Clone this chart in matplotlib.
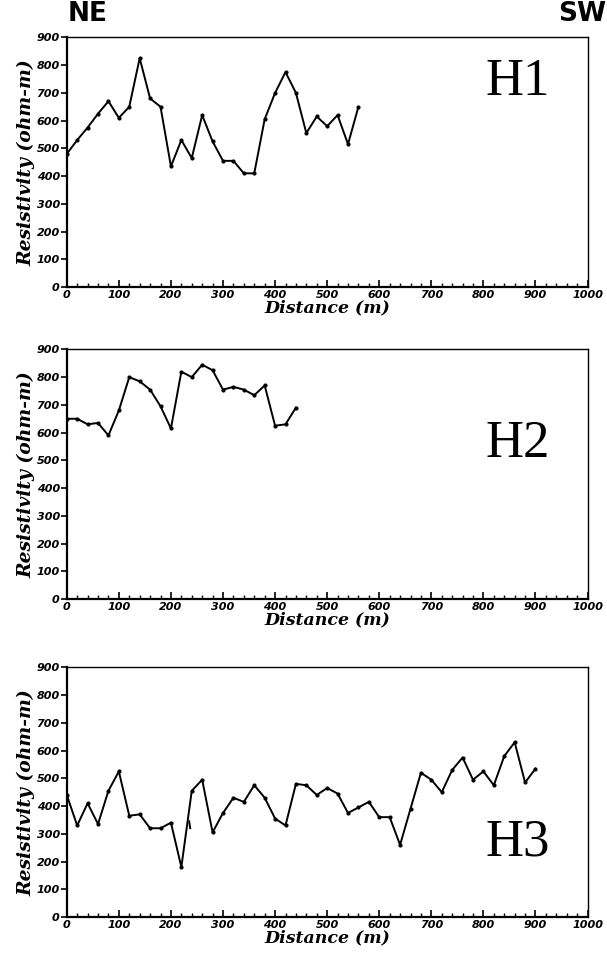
import matplotlib
matplotlib.use("Agg")
import matplotlib.pyplot as plt
from matplotlib.ticker import MultipleLocator

# distance (m) and resistivity (ohm-m)
h1_dist = list(range(0, 561, 20))
h1_res = [480, 530, 575, 625, 670, 610, 650, 825, 680, 650,
          435, 530, 465, 620, 525, 455, 455, 410, 410, 605,
          700, 775, 700, 555, 615, 580, 620, 515, 650]

h2_dist = list(range(0, 441, 20))
h2_res = [650, 650, 630, 635, 590, 680, 800, 785, 755, 695,
          615, 820, 800, 845, 825, 755, 765, 755, 735, 770,
          625, 630, 690]

h3_dist = list(range(0, 901, 20))
h3_res = [440, 330, 410, 335, 455, 525, 365, 370, 320, 320,
          340, 180, 455, 495, 305, 375, 430, 415, 475, 430,
          355, 330, 480, 475, 440, 465, 445, 375, 395, 415,
          360, 360, 260, 390, 520, 495, 450, 530, 575, 495,
          525, 475, 580, 630, 485, 535]

# stray mark near 235 m on H3
h3_stray_dist = [235, 237]
h3_stray_res = [345, 320]

labels = ["H1", "H2", "H3"]
profiles = [(h1_dist, h1_res), (h2_dist, h2_res), (h3_dist, h3_res)]
ticks_y = list(range(0, 901, 100))
ticks_x = list(range(0, 1001, 100))

fig = plt.figure(figsize=(6.07, 9.6), dpi=100)
bottoms = [0.701, 0.376, 0.0448]
left, width, height = 0.110, 0.858, 0.260

label_font = dict(family="DejaVu Serif", weight="bold", style="italic")
tick_font = dict(family="DejaVu Sans", weight="bold", style="italic", size=8)

for i, b in enumerate(bottoms):
    ax = fig.add_axes([left, b, width, height])
    d, r = profiles[i]
    ax.plot(d, r, color="black", lw=1.4, marker="o", ms=2)
    if i == 2:
        ax.plot(h3_stray_dist, h3_stray_res, color="black", lw=1.4)
    ax.set_xlim(0, 1000)
    ax.set_ylim(0, 900)
    ax.set_xticks(ticks_x)
    ax.set_yticks(ticks_y)
    ax.xaxis.set_minor_locator(MultipleLocator(20))
    ax.tick_params(axis="x", which="major", direction="in", length=5, width=1.2, pad=2)
    ax.tick_params(axis="x", which="minor", direction="in", length=3, width=1.0)
    ax.tick_params(axis="y", which="major", direction="out", length=4, width=1.2, pad=1)
    for lab in ax.get_xticklabels() + ax.get_yticklabels():
        lab.set_fontproperties(matplotlib.font_manager.FontProperties(**tick_font))
    for s in ["left", "bottom"]:
        ax.spines[s].set_linewidth(1.6)
    for s in ["top", "right"]:
        ax.spines[s].set_linewidth(1.0)
    ax.set_ylabel("Resistivity (ohm-m)", fontsize=13.5, labelpad=1, **label_font)
    ax.set_xlabel("Distance (m)", fontsize=12.5, labelpad=0, **label_font)
    ax.text(0.865, [0.82, 0.62, 0.30][i], labels[i], transform=ax.transAxes,
            ha="center", va="center", fontsize=38, family="Liberation Serif")

fig.text(0.112, 0.972, "NE", fontsize=19, weight="bold", family="DejaVu Sans",
         ha="left", va="bottom")
fig.text(0.998, 0.972, "SW", fontsize=19, weight="bold", family="DejaVu Sans",
         ha="right", va="bottom")

fig.savefig("out.png", dpi=100)
